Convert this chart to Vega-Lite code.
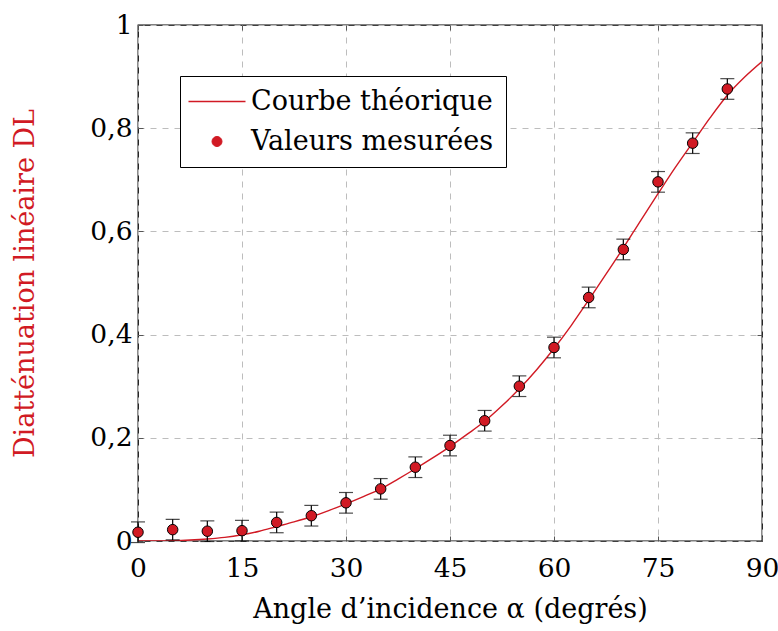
{
  "$schema": "https://vega.github.io/schema/vega-lite/v6.json",
  "width": 624,
  "height": 516,
  "autosize": "none",
  "padding": {"left": 138, "top": 25, "right": 16, "bottom": 90},
  "background": "white",
  "config": {
    "view": {"stroke": "black", "strokeWidth": 1.3},
    "font": "DejaVu Serif"
  },
  "datasets": {
    "curve": [
      {"angle": 0, "D": 0, "series": "Courbe théorique"},
      {"angle": 2.5, "D": 0.0001, "series": "Courbe théorique"},
      {"angle": 5, "D": 0.0007, "series": "Courbe théorique"},
      {"angle": 7.5, "D": 0.002, "series": "Courbe théorique"},
      {"angle": 10, "D": 0.004, "series": "Courbe théorique"},
      {"angle": 12.5, "D": 0.007, "series": "Courbe théorique"},
      {"angle": 15, "D": 0.012, "series": "Courbe théorique"},
      {"angle": 17.5, "D": 0.019, "series": "Courbe théorique"},
      {"angle": 20, "D": 0.028, "series": "Courbe théorique"},
      {"angle": 22.5, "D": 0.037, "series": "Courbe théorique"},
      {"angle": 25, "D": 0.047, "series": "Courbe théorique"},
      {"angle": 27.5, "D": 0.059, "series": "Courbe théorique"},
      {"angle": 30, "D": 0.072, "series": "Courbe théorique"},
      {"angle": 32.5, "D": 0.086, "series": "Courbe théorique"},
      {"angle": 35, "D": 0.101, "series": "Courbe théorique"},
      {"angle": 37.5, "D": 0.12, "series": "Courbe théorique"},
      {"angle": 40, "D": 0.14, "series": "Courbe théorique"},
      {"angle": 42.5, "D": 0.161, "series": "Courbe théorique"},
      {"angle": 45, "D": 0.183, "series": "Courbe théorique"},
      {"angle": 47.5, "D": 0.207, "series": "Courbe théorique"},
      {"angle": 50, "D": 0.232, "series": "Courbe théorique"},
      {"angle": 52.5, "D": 0.262, "series": "Courbe théorique"},
      {"angle": 55, "D": 0.295, "series": "Courbe théorique"},
      {"angle": 57.5, "D": 0.332, "series": "Courbe théorique"},
      {"angle": 60, "D": 0.373, "series": "Courbe théorique"},
      {"angle": 62.5, "D": 0.418, "series": "Courbe théorique"},
      {"angle": 65, "D": 0.467, "series": "Courbe théorique"},
      {"angle": 67.5, "D": 0.517, "series": "Courbe théorique"},
      {"angle": 70, "D": 0.568, "series": "Courbe théorique"},
      {"angle": 72.5, "D": 0.621, "series": "Courbe théorique"},
      {"angle": 75, "D": 0.673, "series": "Courbe théorique"},
      {"angle": 77.5, "D": 0.724, "series": "Courbe théorique"},
      {"angle": 80, "D": 0.772, "series": "Courbe théorique"},
      {"angle": 82.5, "D": 0.82, "series": "Courbe théorique"},
      {"angle": 85, "D": 0.864, "series": "Courbe théorique"},
      {"angle": 87.5, "D": 0.899, "series": "Courbe théorique"},
      {"angle": 90, "D": 0.929, "series": "Courbe théorique"}
    ],
    "measured": [
      {"angle": 0, "D": 0.017, "lo": -0.003, "hi": 0.037, "series": "Valeurs mesurées"},
      {"angle": 5, "D": 0.022, "lo": 0.002, "hi": 0.042, "series": "Valeurs mesurées"},
      {"angle": 10, "D": 0.019, "lo": -0.001, "hi": 0.039, "series": "Valeurs mesurées"},
      {"angle": 15, "D": 0.02, "lo": 0.0, "hi": 0.04, "series": "Valeurs mesurées"},
      {"angle": 20, "D": 0.036, "lo": 0.016, "hi": 0.056, "series": "Valeurs mesurées"},
      {"angle": 25, "D": 0.049, "lo": 0.029, "hi": 0.069, "series": "Valeurs mesurées"},
      {"angle": 30, "D": 0.074, "lo": 0.054, "hi": 0.094, "series": "Valeurs mesurées"},
      {"angle": 35, "D": 0.101, "lo": 0.081, "hi": 0.121, "series": "Valeurs mesurées"},
      {"angle": 40, "D": 0.143, "lo": 0.123, "hi": 0.163, "series": "Valeurs mesurées"},
      {"angle": 45, "D": 0.185, "lo": 0.165, "hi": 0.205, "series": "Valeurs mesurées"},
      {"angle": 50, "D": 0.233, "lo": 0.213, "hi": 0.253, "series": "Valeurs mesurées"},
      {"angle": 55, "D": 0.3, "lo": 0.28, "hi": 0.32, "series": "Valeurs mesurées"},
      {"angle": 60, "D": 0.375, "lo": 0.355, "hi": 0.395, "series": "Valeurs mesurées"},
      {"angle": 65, "D": 0.472, "lo": 0.452, "hi": 0.492, "series": "Valeurs mesurées"},
      {"angle": 70, "D": 0.565, "lo": 0.545, "hi": 0.585, "series": "Valeurs mesurées"},
      {"angle": 75, "D": 0.696, "lo": 0.676, "hi": 0.716, "series": "Valeurs mesurées"},
      {"angle": 80, "D": 0.771, "lo": 0.751, "hi": 0.791, "series": "Valeurs mesurées"},
      {"angle": 85, "D": 0.876, "lo": 0.856, "hi": 0.896, "series": "Valeurs mesurées"}
    ]
  },
  "resolve": {"axis": {"x": "independent", "y": "independent"}},
  "layer": [
    {
      "data": {"name": "curve"},
      "mark": {"type": "line", "strokeWidth": 1.4, "clip": true, "interpolate": "monotone"},
      "encoding": {
        "x": {
          "field": "angle", "type": "quantitative",
          "scale": {"domain": [0, 90], "nice": false, "zero": false},
          "axis": {
            "orient": "bottom",
            "values": [0, 15, 30, 45, 60, 75, 90],
            "title": "Angle d’incidence α (degrés)",
            "titleFont": "DejaVu Serif", "titleFontSize": 27, "titleFontWeight": "normal", "titleColor": "black",
            "titlePadding": 15,
            "labelFont": "DejaVu Serif", "labelFontSize": 26.5, "labelColor": "black", "labelPadding": 19,
            "labelFlush": false, "labelOverlap": false,
            "domain": false,
            "ticks": true, "tickSize": -5, "tickColor": "#555555",
            "grid": true, "gridDash": [6, 6], "gridColor": "#bdbdbd", "gridWidth": 1
          }
        },
        "y": {
          "field": "D", "type": "quantitative",
          "scale": {"domain": [0, 1], "nice": false, "zero": false},
          "axis": {
            "orient": "left",
            "values": [0, 0.2, 0.4, 0.6, 0.8, 1],
            "labelExpr": "datum.value == 0 ? '0' : datum.value == 1 ? '1' : replace(format(datum.value, '.1f'), '.', ',')",
            "title": "Diatténuation linéaire DL",
            "titleFont": "DejaVu Serif", "titleFontSize": 27, "titleFontWeight": "normal", "titleColor": "#d11a24",
            "titlePadding": 50,
            "labelFont": "DejaVu Serif", "labelFontSize": 26.5, "labelColor": "black", "labelPadding": 11,
            "labelFlush": false, "labelOverlap": false,
            "domain": false,
            "ticks": true, "tickSize": -5, "tickColor": "#555555",
            "grid": true, "gridDash": [6, 6], "gridColor": "#bdbdbd", "gridWidth": 1
          }
        },
        "color": {
          "field": "series", "type": "nominal",
          "scale": {"domain": ["Courbe théorique", "Valeurs mesurées"], "range": ["#d11a24", "#d11a24"]},
          "legend": {
            "title": null,
            "orient": "none",
            "legendX": 42,
            "legendY": 51,
            "direction": "vertical",
            "strokeColor": "black",
            "fillColor": "white",
            "padding": 12,
            "labelFont": "DejaVu Serif",
            "labelFontSize": 27,
            "labelColor": "black",
            "labelLimit": 500,
            "labelOffset": 32,
            "rowPadding": 12,
            "symbolSize": 3250,
            "encode": {
              "symbols": {
                "update": {
                  "x": {"value": 25},
                  "shape": {"signal": "datum.value === 'Courbe théorique' ? 'stroke' : 'circle'"},
                  "size": {"signal": "datum.value === 'Courbe théorique' ? 3250 : 100"},
                  "fill": {"signal": "datum.value === 'Courbe théorique' ? 'transparent' : '#d11a24'"},
                  "stroke": {"signal": "datum.value === 'Courbe théorique' ? '#d11a24' : 'black'"},
                  "strokeWidth": {"signal": "datum.value === 'Courbe théorique' ? 1.4 : 1"}
                }
              }
            }
          }
        }
      }
    },
    {
      "data": {"name": "measured"},
      "mark": {"type": "rule", "color": "black", "strokeWidth": 1.2},
      "encoding": {
        "x": {"field": "angle", "type": "quantitative", "axis": null},
        "y": {"field": "lo", "type": "quantitative", "axis": null},
        "y2": {"field": "hi"}
      }
    },
    {
      "data": {"name": "measured"},
      "mark": {"type": "tick", "color": "black", "thickness": 1.2, "size": 14, "orient": "horizontal"},
      "encoding": {
        "x": {"field": "angle", "type": "quantitative", "axis": null},
        "y": {"field": "lo", "type": "quantitative", "axis": null}
      }
    },
    {
      "data": {"name": "measured"},
      "mark": {"type": "tick", "color": "black", "thickness": 1.2, "size": 14, "orient": "horizontal"},
      "encoding": {
        "x": {"field": "angle", "type": "quantitative", "axis": null},
        "y": {"field": "hi", "type": "quantitative", "axis": null}
      }
    },
    {
      "data": {"name": "measured"},
      "mark": {"type": "point", "filled": true, "size": 110, "stroke": "black", "strokeWidth": 1, "opacity": 1},
      "encoding": {
        "x": {
          "field": "angle", "type": "quantitative",
          "axis": {"orient": "top", "values": [0, 15, 30, 45, 60, 75, 90], "labels": false, "title": null, "domain": false, "grid": false, "ticks": true, "tickSize": -5, "tickColor": "#555555"}
        },
        "y": {
          "field": "D", "type": "quantitative",
          "axis": {"orient": "right", "values": [0, 0.2, 0.4, 0.6, 0.8, 1], "labels": false, "title": null, "domain": false, "grid": false, "ticks": true, "tickSize": -5, "tickColor": "#555555"}
        },
        "fill": {"field": "series", "type": "nominal", "scale": {"domain": ["Courbe théorique", "Valeurs mesurées"], "range": ["#d11a24", "#d11a24"]}, "legend": null}
      }
    }
  ]
}
